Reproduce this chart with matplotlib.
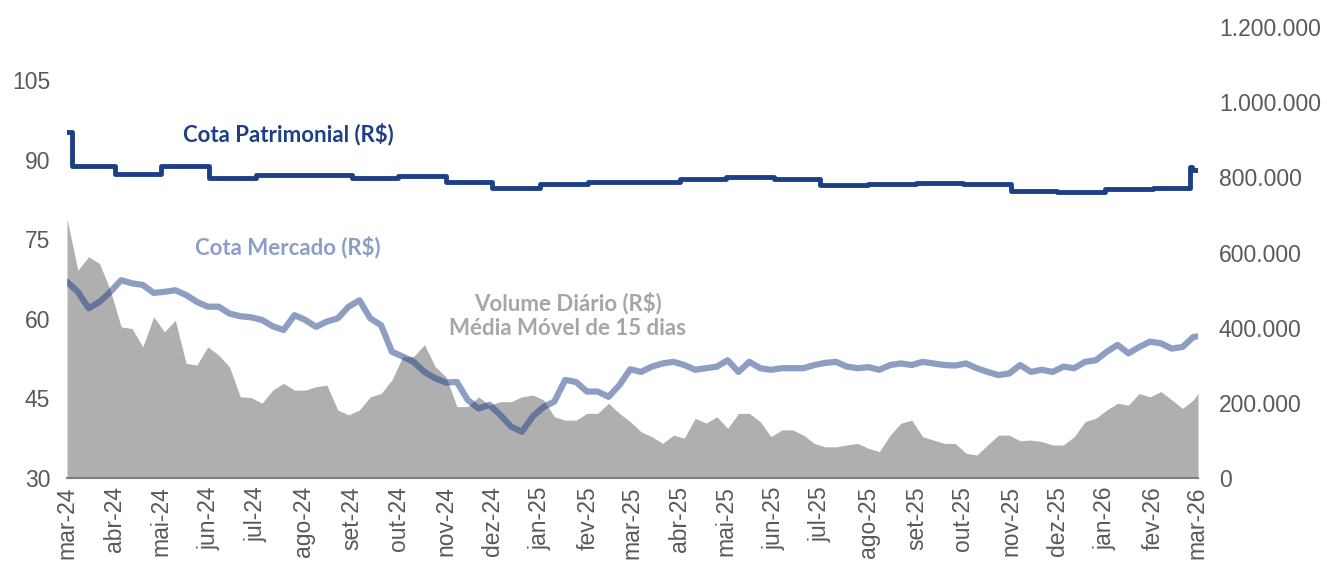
import numpy as np
import pandas as pd
import matplotlib
matplotlib.use("Agg")
import matplotlib.pyplot as plt
from matplotlib.ticker import FuncFormatter

plt.rcParams['font.family'] = ['Liberation Sans', 'DejaVu Sans']

# weekly samples from 2024-03-01, last point on 2026-03-02
dates = list(pd.date_range('2024-03-01', periods=105, freq='7D')) + [pd.Timestamp('2026-03-02')]

cota_mercado = [
    67.0, 65.1, 62.0, 63.2, 65.1, 67.3, 66.7, 66.4, 64.9, 65.1,
    65.4, 64.5, 63.2, 62.3, 62.3, 61.0, 60.5, 60.3, 59.8, 58.6,
    57.9, 60.7, 59.8, 58.5, 59.5, 60.1, 62.3, 63.5, 60.1, 58.8,
    53.8, 52.9, 51.9, 50.0, 48.8, 48.0, 48.1, 44.7, 43.1, 43.8,
    41.9, 39.7, 38.7, 41.6, 43.4, 44.4, 48.5, 48.1, 46.3, 46.3,
    45.3, 47.5, 50.5, 50.0, 51.0, 51.6, 51.9, 51.3, 50.4, 50.7,
    51.0, 52.2, 50.0, 51.9, 50.7, 50.4, 50.7, 50.7, 50.7, 51.3,
    51.7, 51.9, 51.0, 50.7, 50.9, 50.4, 51.3, 51.6, 51.3, 51.9,
    51.6, 51.3, 51.2, 51.6, 50.7, 50.0, 49.4, 49.7, 51.3, 50.0,
    50.4, 50.0, 51.0, 50.7, 51.9, 52.2, 53.8, 55.1, 53.5, 54.7,
    55.7, 55.4, 54.4, 54.7, 56.6, 56.7,
]

# volume diario, media movel 15 dias (mil R$)
volume_mil = [
    690, 553, 589, 571, 500, 402, 398, 349, 429, 389,
    420, 305, 301, 349, 327, 296, 216, 214, 199, 234,
    252, 234, 234, 243, 247, 181, 168, 181, 216, 225,
    261, 323, 323, 355, 296, 269, 190, 190, 216, 194,
    203, 203, 216, 221, 208, 163, 154, 154, 172, 172,
    199, 172, 150, 123, 110, 92, 114, 106, 159, 146,
    163, 132, 172, 172, 150, 110, 128, 128, 114, 92,
    83, 83, 88, 92, 79, 70, 114, 146, 154, 110,
    101, 92, 92, 66, 61, 88, 114, 114, 99, 101,
    97, 88, 88, 110, 150, 159, 181, 199, 194, 225,
    216, 230, 208, 185, 208, 225,
]

pat_dates = ['2024-03-01', '2024-03-04', '2024-04-01', '2024-05-01', '2024-06-01',
             '2024-07-01', '2024-09-01', '2024-10-01', '2024-11-01', '2024-12-01',
             '2025-01-01', '2025-02-01', '2025-04-01', '2025-05-01', '2025-06-01',
             '2025-07-01', '2025-08-01', '2025-09-01', '2025-10-01', '2025-11-01',
             '2025-12-01', '2026-01-01', '2026-02-01', '2026-02-25', '2026-02-26',
             '2026-03-02']
cota_patrimonial = [95.2, 88.8, 87.4, 88.8, 86.6,
                    87.1, 86.5, 86.9, 85.9, 84.6,
                    85.5, 85.9, 86.3, 86.7, 86.3,
                    85.2, 85.5, 85.7, 85.4, 84.1,
                    84.0, 84.4, 84.6, 88.7, 88.0,
                    88.0]

month_ticks = pd.date_range('2024-03-01', '2026-03-01', freq='MS')
month_labels = ['mar-24', 'abr-24', 'mai-24', 'jun-24', 'jul-24', 'ago-24', 'set-24',
                'out-24', 'nov-24', 'dez-24', 'jan-25', 'fev-25', 'mar-25', 'abr-25',
                'mai-25', 'jun-25', 'jul-25', 'ago-25', 'set-25', 'out-25', 'nov-25',
                'dez-25', 'jan-26', 'fev-26', 'mar-26']

NAVY = '#1C3F86'
GRAY_AREA = '#AFAFAF'
TICK = '#595959'

fig = plt.figure(figsize=(13.27, 5.67), dpi=100)
ax = fig.add_axes([0.0505, 0.157, 0.8523, 0.795])
ax2 = ax.twinx()

vol = np.array(volume_mil) * 1000
ax2.fill_between(dates, 0, vol, color=GRAY_AREA, linewidth=0)
ax2.set_ylim(0, 1200000)
ax2.set_yticks(np.arange(0, 1200001, 200000))
ax2.yaxis.set_major_formatter(FuncFormatter(lambda v, p: f"{v:,.0f}".replace(',', '.')))

# lines above the volume area
ax.set_zorder(ax2.get_zorder() + 1)
ax.patch.set_visible(False)

ax.plot(dates, cota_mercado, color=NAVY, alpha=0.5, linewidth=4.5, solid_capstyle='round')
ax.step(pd.to_datetime(pat_dates), cota_patrimonial, where='post', color=NAVY, linewidth=3.5)

ax.set_ylim(30, 115)
ax.set_yticks([30, 45, 60, 75, 90, 105])
ax.set_xlim(pd.Timestamp('2024-03-01'), pd.Timestamp('2026-03-02'))
ax.set_xticks(month_ticks)
ax.set_xticklabels(month_labels, rotation=90)

for a in (ax, ax2):
    for s in a.spines.values():
        s.set_visible(False)
ax.spines['bottom'].set_visible(True)
ax.spines['bottom'].set_color('#7F7F7F')
ax.spines['bottom'].set_linewidth(1.5)

ax.tick_params(axis='y', length=0, pad=12, labelsize=16.5, labelcolor=TICK)
ax.tick_params(axis='x', length=0, pad=6, labelsize=16.5, labelcolor=TICK)
ax2.tick_params(axis='y', length=0, pad=15, labelsize=16.5, labelcolor=TICK)

fig.text(0.217, 0.764, 'Cota Patrimonial (R$)', color=NAVY, fontsize=16,
         fontweight='bold', family='Lato', ha='center', va='center')
fig.text(0.217, 0.565, 'Cota Mercado (R$)', color='#8A9FC8', fontsize=16,
         fontweight='bold', family='Lato', ha='center', va='center')
fig.text(0.428, 0.465, 'Volume Diário (R$)', color='#A6A6A6', fontsize=16,
         fontweight='bold', family='Lato', ha='center', va='center')
fig.text(0.428, 0.420, 'Média Móvel de 15 dias', color='#A6A6A6', fontsize=16,
         fontweight='bold', family='Lato', ha='center', va='center')

fig.savefig('out.png', dpi=100)
